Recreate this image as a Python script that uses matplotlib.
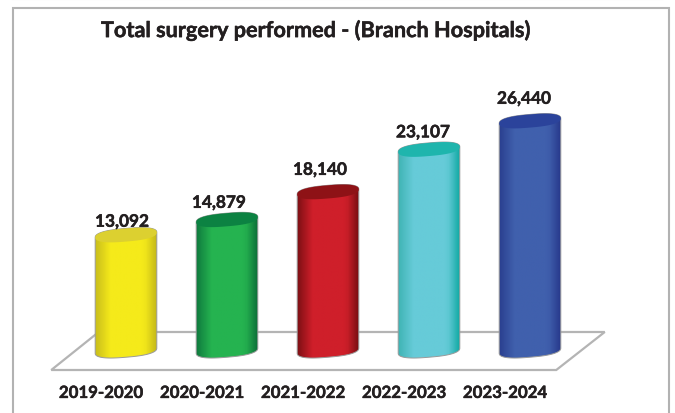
import numpy as np
import matplotlib
matplotlib.use('Agg')
import matplotlib.pyplot as plt
import matplotlib.patheffects as pe
from matplotlib.colors import LinearSegmentedColormap
from matplotlib.patches import PathPatch, Polygon, Rectangle
from matplotlib.path import Path

plt.rcParams['font.family'] = ['Lato', 'DejaVu Sans']

years = ['2019-2020', '2020-2021', '2021-2022', '2022-2023', '2023-2024']
surgeries = [13092, 14879, 18140, 23107, 26440]

# dark edge, body, dark edge, then top cap colour
shades = [
    ('#c9bd1c', '#f5ea1a', '#c4b81a', '#dcd030'),
    ('#0f7a3e', '#25b350', '#0d7039', '#0c8242'),
    ('#7d0f14', '#cf1f2a', '#7a0e12', '#8e1216'),
    ('#3fb4b4', '#66cbd8', '#12aaa4', '#1fb5ad'),
    ('#2a3f8f', '#4060ad', '#27398c', '#2b439b'),
]

# the value labels are not placed evenly in the original
label_dx = [-0.04, -0.08, -0.08, -0.06, -0.06]
label_dy = [1550, 1980, 2580, 2000, 2600]

BAR_W = 0.305
CAP_B = 770
CAP_TILT = 300
BASE = -450
bold = [pe.withStroke(linewidth=0.35, foreground='#231f20')]


def ellipse_pts(cx, cy, t):
    # squarish ellipse, the shoulders of the cylinders are quite round
    c = np.sign(np.cos(t)) * np.abs(np.cos(t)) ** 0.75
    s = np.sign(np.sin(t)) * np.abs(np.sin(t)) ** 0.85
    return np.column_stack([cx + BAR_W * c, cy + CAP_B * s + CAP_TILT * c])


fig = plt.figure(figsize=(6.75, 4.14), dpi=100, facecolor='white')
ax = fig.add_axes([0, 0, 1, 1])
ax.axis('off')

# outer frame, runs off the bottom of the picture
ax.add_patch(Rectangle((0.0193, -0.02), 0.972, 0.998, transform=ax.transAxes, fc='white', ec='#b2b2b2', lw=1.5))
ax.plot([0.0193, 0.98], [0.999, 0.999], transform=ax.transAxes, color='#e4e4e4', lw=1.5)

# floor
floor = Polygon([(-0.74, -2717), (4.26, -2717), (4.74, 1733), (-0.27, 1733)], closed=True,
                fc='white', ec='#b4b4b4', lw=1.6)
ax.add_patch(floor)

for i, (val, cols) in enumerate(zip(surgeries, shades)):
    # outline of the whole cylinder: top half of cap then bottom half of base
    top = ellipse_pts(i, val, np.linspace(0, np.pi, 60))
    bottom = ellipse_pts(i, BASE, np.linspace(np.pi, 2 * np.pi, 60))
    outline = np.vstack([top, bottom, top[:1]])
    clip = PathPatch(Path(outline), fc='none', ec='#9a9a9a', lw=0.7, zorder=4)
    ax.add_patch(clip)

    cmap = LinearSegmentedColormap.from_list('c', [cols[0], cols[1], cols[1], cols[2]])
    grad = np.concatenate([np.linspace(0, 0.35, 20), np.linspace(0.35, 0.7, 40), np.linspace(0.7, 1, 14)])[None, :]
    im = ax.imshow(grad, extent=(i - BAR_W, i + BAR_W, BASE - 1500, val + 1500), cmap=cmap, vmin=0, vmax=1,
                   aspect='auto', zorder=3, interpolation='bilinear')
    im.set_clip_path(clip)

    cap = ellipse_pts(i, val, np.linspace(0, 2 * np.pi, 160))
    ax.add_patch(Polygon(cap, closed=True, fc=cols[3], ec='none', zorder=5))

    ax.text(i + label_dx[i], val + label_dy[i], f'{val:,}', ha='center', va='center', fontsize=12.4, fontweight='bold',
            color='#231f20', zorder=6, path_effects=bold)
    ax.text(i - 0.25, -5400, years[i], ha='center', va='center', fontsize=12.1, fontweight='bold',
            color='#231f20', path_effects=bold)

ax.text(0.469, 0.925, 'Total surgery performed - (Branch Hospitals)', transform=ax.transAxes, ha='center',
        va='center', fontsize=15.6, fontweight='bold', color='#231f20', path_effects=bold)

ax.set_xlim(-1.2475, 5.4356)
ax.set_ylim(-7752, 40726)
fig.savefig('out.png', dpi=100)
